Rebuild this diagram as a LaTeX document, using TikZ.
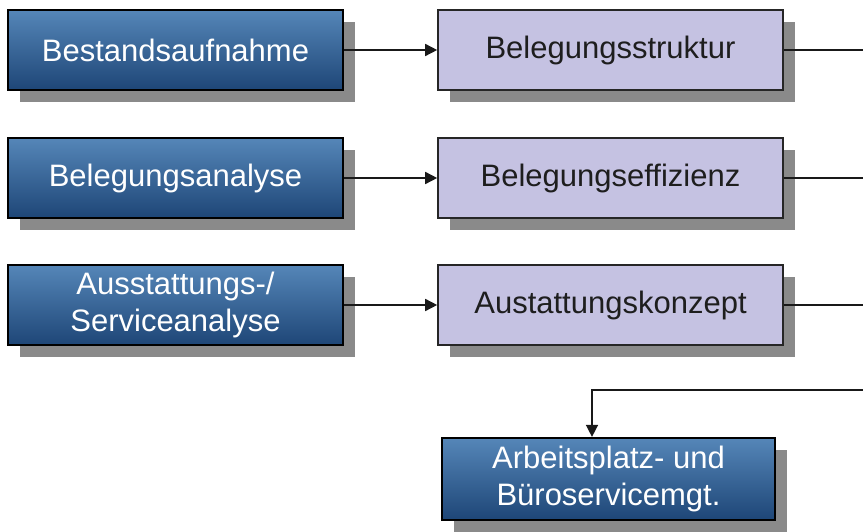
\documentclass[tikz,border=0pt]{standalone}
\usepackage{fontspec}
\setmainfont{Liberation Sans}
\usetikzlibrary{arrows.meta,shadows}
\definecolor{bluetop}{HTML}{5586B8}
\definecolor{bluebot}{HTML}{1E4677}
\definecolor{lav}{HTML}{C5C2E2}
\definecolor{shad}{HTML}{8A8A8A}
\definecolor{txt}{HTML}{1E1E1E}
\tikzset{
  bluebox/.style={draw=black, line width=2.2pt, top color=bluetop, bottom color=bluebot,
    text=white, minimum width=335pt, minimum height=80pt, inner sep=0pt, align=center,
    font=\fontsize{31}{37}\selectfont,
    drop shadow={shadow xshift=12pt, shadow yshift=-12pt, fill=shad, opacity=1}},
  lavbox/.style={draw=black!85, line width=1.6pt, fill=lav, text=txt,
    minimum width=345pt, minimum height=80pt, inner sep=0pt, align=center,
    font=\fontsize{31}{37}\selectfont,
    drop shadow={shadow xshift=12pt, shadow yshift=-12pt, fill=shad, opacity=1}},
  conn/.style={line width=1.5pt, black!90},
  arr/.style={conn, -{Triangle[length=12pt,width=12pt]}}
}
\begin{document}
\begin{tikzpicture}[x=1pt,y=-1pt]
\useasboundingbox (0,0) rectangle (863,532);
\node[bluebox] (b1) at (175.5,50) {Bestandsaufnahme};
\node[bluebox] (b2) at (175.5,178) {Belegungsanalyse};
\node[bluebox] (b3) at (175.5,305) {Ausstattungs-/\\Serviceanalyse};
\node[lavbox] (l1) at (610.5,50) {Belegungsstruktur};
\node[lavbox] (l2) at (610.5,178) {Belegungseffizienz};
\node[lavbox] (l3) at (610.5,305) {Austattungskonzept};
\node[bluebox, minimum width=333pt, minimum height=82pt] (b4) at (608.5,479) {Arbeitsplatz- und\\Büroservicemgt.};
\coordinate (e1) at (863,50);
\coordinate (e2) at (863,178);
\coordinate (e3) at (863,305);
\coordinate (e4) at (863,390);
\coordinate (k4) at (592,390);
\draw[arr] (b1) -- (l1);
\draw[arr] (b2) -- (l2);
\draw[arr] (b3) -- (l3);
\draw[conn] (l1) -- (e1);
\draw[conn] (l2) -- (e2);
\draw[conn] (l3) -- (e3);
\draw[arr] (e4) -- (k4) -- (k4 |- b4.north);
\end{tikzpicture}
\end{document}
